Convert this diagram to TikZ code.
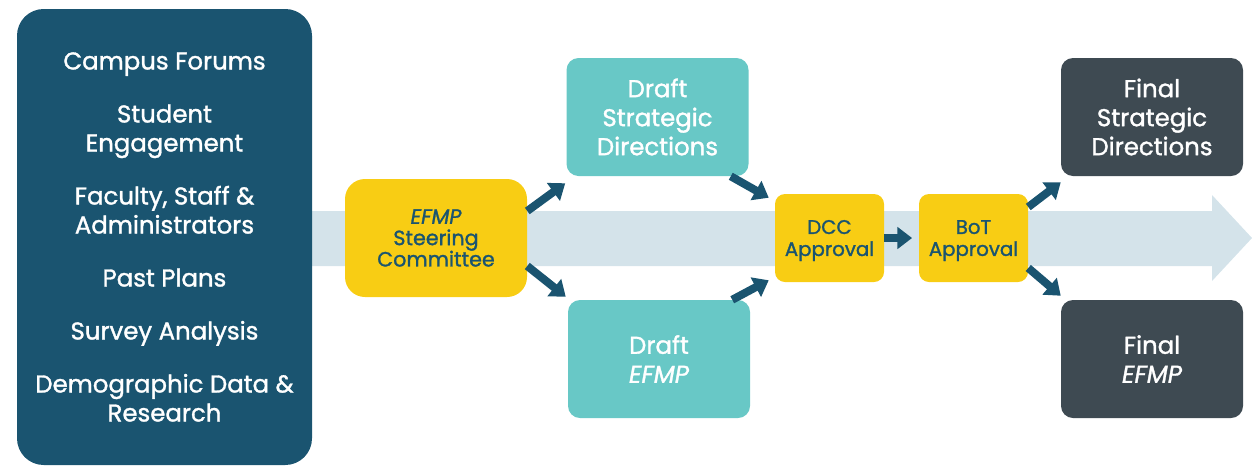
\documentclass[tikz,border=0pt]{standalone}
\usepackage{fontspec}
\setmainfont{Poppins}[FakeBold=1.3]
\usetikzlibrary{arrows.meta,calc}
\definecolor{navy}{HTML}{1A5470}
\definecolor{teal}{HTML}{68C8C6}
\definecolor{gold}{HTML}{F8CD14}
\definecolor{slate}{HTML}{3E4A52}
\definecolor{band}{HTML}{D4E3EA}
\begin{document}
\begin{tikzpicture}[x=0.75pt,y=-0.75pt,
  box/.style={draw=none,inner sep=0pt,align=center,minimum width=136.5pt,minimum height=88.5pt,rounded corners=9pt},
  bigtxt/.style={font=\fontsize{18.3}{21.75}\selectfont,text=white},
  efmptxt/.style={font=\fontsize{15.5}{16}\selectfont,text=navy},
  smalltxt/.style={font=\fontsize{14.8}{16.5}\selectfont,text=navy},
  flow/.style={draw=navy,line width=6pt,-{Triangle[width=16pt,length=11pt]}}]
\useasboundingbox (0,0) rectangle (1252,465);
\fill[band] (300,211) -- (1212,211) -- (1212,195) -- (1252,238) -- (1212,281) -- (1212,266) -- (300,266) -- cycle;
\node[box,fill=navy,minimum width=221.25pt,minimum height=342pt,rounded corners=20pt,bigtxt] (src) at (164.5,237)
 {Campus Forums\\[18pt]Student\\Engagement\\[18pt]Faculty, Staff \&\\Administrators\\[18pt]Past Plans\\[18pt]Survey Analysis\\[18pt]Demographic Data \&\\Research};
\node[box,fill=gold,rounded corners=15pt,efmptxt] (efmp) at (436,238) {\textit{EFMP}\\Steering\\Committee};
\node[box,fill=teal,bigtxt] (dsd) at (657.5,117) {Draft\\Strategic\\Directions};
\node[box,fill=teal,bigtxt] (def) at (659,359) {Draft\\\textit{EFMP}};
\node[box,fill=gold,minimum width=81.75pt,minimum height=66pt,rounded corners=7.5pt,smalltxt,text depth=-3pt] (dcc) at (829.5,238) {DCC\\Approval};
\node[box,fill=gold,minimum width=81.75pt,minimum height=66pt,rounded corners=7.5pt,smalltxt,text depth=-3pt] (bot) at (973.5,238) {BoT\\Approval};
\node[box,fill=slate,bigtxt] (fsd) at (1152,117) {Final\\Strategic\\Directions};
\node[box,fill=slate,bigtxt] (fef) at (1152,359) {Final\\\textit{EFMP}};
\draw[flow] ($(efmp.east)+(0,-27)$) -- ($(dsd.south west)+(-1,7)$);
\draw[flow] ($(efmp.east)+(0,28)$) -- ($(def.north west)+(-2,-3)$);
\draw[flow] ($(dsd.south east)+(-18,0)$) -- ($(dcc.north west)+(-6,4)$);
\draw[flow] ($(def.north east)+(-18,0)$) -- ($(dcc.south west)+(-6,-2)$);
\draw[flow,shorten >=5pt] (dcc.east) -- (bot.west);
\draw[flow] ($(bot.east)+(0,-31)$) -- ($(fsd.south west)+(0,6)$);
\draw[flow] ($(bot.east)+(0,30)$) -- ($(fef.north west)+(0,-4)$);
\end{tikzpicture}
\end{document}
